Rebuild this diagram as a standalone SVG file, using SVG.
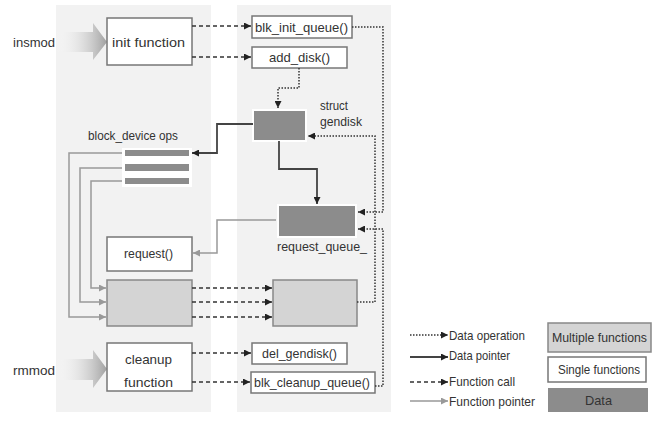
<svg xmlns="http://www.w3.org/2000/svg" width="660" height="422" viewBox="0 0 660 422">
<defs>
<style>
text{font-family:"Liberation Sans",Arial,sans-serif;font-size:13.5px;fill:#333;}
.panel{fill:#f2f2f2;}
.single{fill:#fff;stroke:#777;stroke-width:1.5;}
.multi{fill:#d4d4d4;stroke:#888;stroke-width:1.5;}
.data{fill:#8c8c8c;stroke:#fff;stroke-width:2;}
.call{fill:none;stroke:#333;stroke-width:1.6;stroke-dasharray:4 3;}
.dop{fill:none;stroke:#333;stroke-width:1.5;stroke-dasharray:1.5 1.5;}
.dptr{fill:none;stroke:#444;stroke-width:1.8;}
.fptr{fill:none;stroke:#999;stroke-width:1.5;}
.bar{fill:#8c8c8c;}
</style>
<marker id="ad" viewBox="0 0 10 10" refX="10" refY="5" markerWidth="8" markerHeight="7" markerUnits="userSpaceOnUse" orient="auto"><path d="M0,0L10,5L0,10z" fill="#222"/></marker>
<marker id="ag" viewBox="0 0 10 10" refX="10" refY="5" markerWidth="8" markerHeight="7" markerUnits="userSpaceOnUse" orient="auto"><path d="M0,0L10,5L0,10z" fill="#999"/></marker>
<linearGradient id="grad" x1="0" y1="0" x2="1" y2="0">
<stop offset="0" stop-color="#fff" stop-opacity="0"/>
<stop offset="1" stop-color="#a0a0a0"/>
</linearGradient>
</defs>

<rect class="panel" x="56" y="5" width="155" height="407"/>
<rect class="panel" x="237" y="5" width="154" height="407"/>

<g id="insmod">
<path d="M55,32H93V23L107,42L93,60V52H55z" fill="url(#grad)"/>
<text x="13" y="47" textLength="42" lengthAdjust="spacingAndGlyphs">insmod</text>
</g>
<g id="rmmod">
<path d="M55,359H93V350L107,369L93,388V380H55z" fill="url(#grad)"/>
<text x="13" y="375" textLength="42" lengthAdjust="spacingAndGlyphs">rmmod</text>
</g>

<g id="init_function">
<rect class="single" x="107" y="18" width="85" height="47"/>
<text x="112" y="47" font-size="15" textLength="73" lengthAdjust="spacingAndGlyphs">init function</text>
</g>
<g id="blk_init_queue">
<rect class="single" x="252" y="16" width="100" height="22"/>
<text x="255" y="32" textLength="93" lengthAdjust="spacingAndGlyphs">blk_init_queue()</text>
</g>
<g id="add_disk">
<rect class="single" x="252" y="47" width="95" height="21"/>
<text x="269" y="62" textLength="61" lengthAdjust="spacingAndGlyphs">add_disk()</text>
</g>
<g id="gendisk">
<rect class="data" x="253" y="110" width="53" height="31"/>
<text x="320" y="110" textLength="28" lengthAdjust="spacingAndGlyphs">struct</text>
<text x="320" y="126" textLength="42" lengthAdjust="spacingAndGlyphs">gendisk</text>
</g>
<g id="block_device_ops">
<text x="88" y="140" textLength="90" lengthAdjust="spacingAndGlyphs">block_device ops</text>
<rect x="122" y="148" width="70" height="39" fill="#fff"/>
<rect class="bar" x="125" y="150" width="64" height="6"/>
<rect class="bar" x="125" y="164" width="64" height="7"/>
<rect class="bar" x="125" y="178" width="64" height="6"/>
</g>
<g id="request_queue">
<rect class="data" x="278" y="205" width="78" height="32"/>
<text x="277" y="251" textLength="90" lengthAdjust="spacingAndGlyphs">request_queue_</text>
</g>
<g id="request">
<rect class="single" x="107" y="237" width="85" height="34"/>
<text x="124" y="258" textLength="49" lengthAdjust="spacingAndGlyphs">request()</text>
</g>
<g id="multi_left">
<rect class="multi" x="107" y="280" width="85" height="46"/>
</g>
<g id="multi_right">
<rect class="multi" x="273" y="280" width="84" height="46"/>
</g>
<g id="cleanup_function">
<rect class="single" x="107" y="343" width="85" height="48"/>
<text x="125" y="364" font-size="15" textLength="47" lengthAdjust="spacingAndGlyphs">cleanup</text>
<text x="124" y="387" font-size="15" textLength="49" lengthAdjust="spacingAndGlyphs">function</text>
</g>
<g id="del_gendisk">
<rect class="single" x="252" y="343" width="95" height="21"/>
<text x="262" y="358" textLength="75" lengthAdjust="spacingAndGlyphs">del_gendisk()</text>
</g>
<g id="blk_cleanup_queue">
<rect class="single" x="251" y="372" width="124" height="21"/>
<text x="254" y="387" textLength="116" lengthAdjust="spacingAndGlyphs">blk_cleanup_queue()</text>
</g>

<g id="connectors">
<path class="call" d="M192,26H251" marker-end="url(#ad)"/>
<path class="call" d="M192,57H251" marker-end="url(#ad)"/>
<path class="call" d="M192,288H272" marker-end="url(#ad)"/>
<path class="call" d="M192,302H272" marker-end="url(#ad)"/>
<path class="call" d="M192,317H272" marker-end="url(#ad)"/>
<path class="call" d="M192,353H251" marker-end="url(#ad)"/>
<path class="call" d="M192,382H250" marker-end="url(#ad)"/>

<path class="dop" d="M299,68V88H278V108" marker-end="url(#ad)"/>
<path class="dop" d="M352,27H383V212H358" marker-end="url(#ad)"/>
<path class="dop" d="M357,302H375V136H308" marker-end="url(#ad)"/>
<path class="dop" d="M375,386H383V229H358" marker-end="url(#ad)"/>

<path class="dptr" d="M253,124H217V153H192" marker-end="url(#ad)"/>
<path class="dptr" d="M279,141V169H317V204" marker-end="url(#ad)"/>

<path class="fptr" d="M276,220H217V253H193" marker-end="url(#ag)"/>
<path class="fptr" d="M122,153H69V317H106" marker-end="url(#ag)"/>
<path class="fptr" d="M122,168H80V302H106" marker-end="url(#ag)"/>
<path class="fptr" d="M122,181H91V288H106" marker-end="url(#ag)"/>
</g>

<g id="legend">
<path class="dop" d="M410,335H448" marker-end="url(#ad)"/>
<text x="449" y="340" textLength="76" lengthAdjust="spacingAndGlyphs">Data operation</text>
<path class="dptr" d="M410,357H448" marker-end="url(#ad)"/>
<text x="449" y="360" textLength="61" lengthAdjust="spacingAndGlyphs">Data pointer</text>
<path class="call" d="M410,382H448" marker-end="url(#ad)"/>
<text x="449" y="386" textLength="66" lengthAdjust="spacingAndGlyphs">Function call</text>
<path class="fptr" d="M410,401H448" marker-end="url(#ag)"/>
<text x="449" y="406" textLength="86" lengthAdjust="spacingAndGlyphs">Function pointer</text>

<rect class="multi" x="548" y="323" width="103" height="29"/>
<text x="552" y="342" textLength="95" lengthAdjust="spacingAndGlyphs">Multiple functions</text>
<rect class="single" x="548" y="357" width="98" height="25"/>
<text x="558" y="374" textLength="82" lengthAdjust="spacingAndGlyphs">Single functions</text>
<rect x="548" y="388" width="100" height="24" fill="#8c8c8c"/>
<text x="585" y="405" textLength="27" lengthAdjust="spacingAndGlyphs">Data</text>
</g>
</svg>
